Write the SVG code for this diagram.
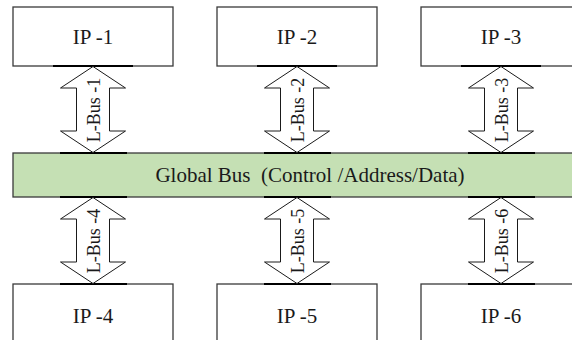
<svg xmlns="http://www.w3.org/2000/svg" width="572" height="340" viewBox="0 0 572 340">
<style>
.box{fill:#ffffff;stroke:#3a3a3a;stroke-width:1.3}
.bus{fill:#c5e0b4;stroke:#3a3a3a;stroke-width:1.3}
.lbl{font-family:"Liberation Serif","Times New Roman",serif;font-size:21px;fill:#1a1a1a;text-anchor:middle}
.glbl{font-family:"Liberation Serif","Times New Roman",serif;font-size:21px;fill:#1a1a1a;text-anchor:middle;white-space:pre}
.arr{fill:#ffffff;stroke:#1a1a1a;stroke-width:1}
.bar{stroke:#000000;stroke-width:2.2}
.alb{font-family:"Liberation Serif","Times New Roman",serif;font-size:18px;fill:#1a1a1a;text-anchor:middle}
</style>
<defs>
<path id="dbl" d="M0,0 L32.5,21.5 L16.5,21.5 L16.5,64.5 L32.5,64.5 L0,86 L-32.5,64.5 L-16.5,64.5 L-16.5,21.5 L-32.5,21.5 Z"/>
</defs>
<g id="ip1"><rect class="box" x="13" y="7" width="160" height="59"/><text class="lbl" x="93" y="44">IP -1</text></g>
<g id="ip2"><rect class="box" x="217" y="7" width="160" height="59"/><text class="lbl" x="297" y="44">IP -2</text></g>
<g id="ip3"><rect class="box" x="421" y="7" width="160" height="59"/><text class="lbl" x="501" y="44">IP -3</text></g>
<g id="global-bus"><rect class="bus" x="13" y="153" width="570" height="44"/><text class="glbl" x="310" y="182">Global Bus  (Control /Address/Data)</text></g>
<g id="ip4"><rect class="box" x="13" y="284" width="160" height="70"/><text class="lbl" x="93" y="323">IP -4</text></g>
<g id="ip5"><rect class="box" x="217" y="284" width="160" height="70"/><text class="lbl" x="297" y="323">IP -5</text></g>
<g id="ip6"><rect class="box" x="421" y="284" width="160" height="70"/><text class="lbl" x="501" y="323">IP -6</text></g>
<g id="connectors">
<line class="bar" x1="53" y1="66" x2="133" y2="66"/>
<line class="bar" x1="257" y1="66" x2="337" y2="66"/>
<line class="bar" x1="461" y1="66" x2="541" y2="66"/>
<line class="bar" x1="60" y1="153" x2="127" y2="153"/>
<line class="bar" x1="264" y1="153" x2="331" y2="153"/>
<line class="bar" x1="468" y1="153" x2="535" y2="153"/>
<line class="bar" x1="60" y1="197" x2="127" y2="197"/>
<line class="bar" x1="264" y1="197" x2="331" y2="197"/>
<line class="bar" x1="468" y1="197" x2="535" y2="197"/>
<line class="bar" x1="60" y1="284" x2="127" y2="284"/>
<line class="bar" x1="264" y1="284" x2="331" y2="284"/>
<line class="bar" x1="468" y1="284" x2="535" y2="284"/>
<g id="lbus1"><use href="#dbl" class="arr" x="93" y="66.5"/><text class="alb" transform="translate(99.5,110) rotate(-90)">L-Bus -1</text></g>
<g id="lbus2"><use href="#dbl" class="arr" x="297" y="66.5"/><text class="alb" transform="translate(303.5,110) rotate(-90)">L-Bus -2</text></g>
<g id="lbus3"><use href="#dbl" class="arr" x="501" y="66.5"/><text class="alb" transform="translate(507.5,110) rotate(-90)">L-Bus -3</text></g>
<g id="lbus4"><use href="#dbl" class="arr" x="93" y="197.5"/><text class="alb" transform="translate(99.5,241) rotate(-90)">L-Bus -4</text></g>
<g id="lbus5"><use href="#dbl" class="arr" x="297" y="197.5"/><text class="alb" transform="translate(303.5,241) rotate(-90)">L-Bus -5</text></g>
<g id="lbus6"><use href="#dbl" class="arr" x="501" y="197.5"/><text class="alb" transform="translate(507.5,241) rotate(-90)">L-Bus -6</text></g>
</g>
</svg>
